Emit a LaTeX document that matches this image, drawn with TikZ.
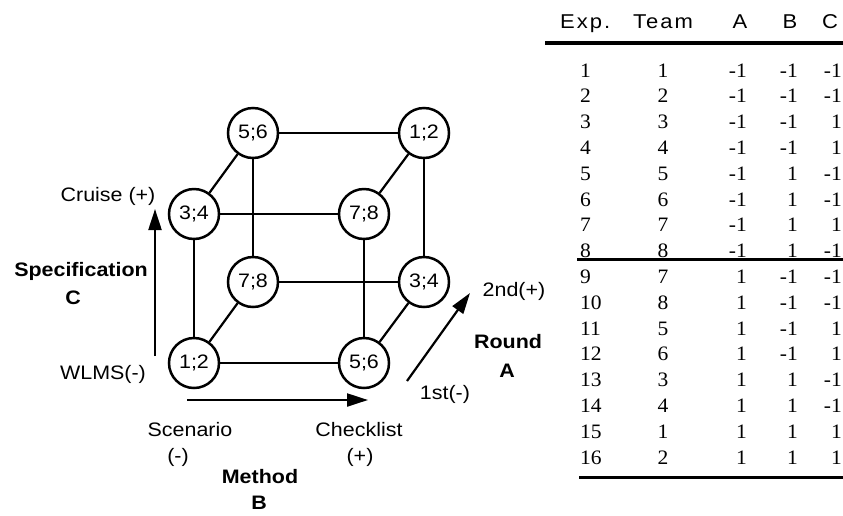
\documentclass[tikz,border=0pt]{standalone}
\usepackage{fontspec}
\setmainfont{Liberation Serif}[FakeStretch=1.05]
\newfontfamily\labelfont{Liberation Sans}[FakeStretch=1.1]
\newfontfamily\headfont{Liberation Sans}[FakeStretch=1.1, LetterSpace=10]
\usetikzlibrary{arrows.meta}

\begin{document}
\begin{tikzpicture}[x=1pt,y=-1pt,
  vtx/.style={circle, draw, line width=2.5pt, minimum size=50pt, inner sep=0pt,
    font=\labelfont\fontsize{19.5}{22}\selectfont},
  edge/.style={line width=2.2pt},
  lbl/.style={inner sep=0pt, font=\labelfont\fontsize{19.5}{22}\selectfont},
  blbl/.style={inner sep=0pt, font=\labelfont\bfseries\fontsize{19.5}{22}\selectfont},
  axis/.style={line width=2.2pt, -{Triangle[length=21pt,width=13pt]}},
  hdr/.style={inner sep=0pt, anchor=base, font=\headfont\fontsize{20}{24}\selectfont},
  cell/.style={inner sep=0pt, font=\fontsize{20.5}{24}\selectfont},
  rule/.style={line width=#1}
]
\useasboundingbox (0,0) rectangle (843,515);

% ---- design cube ----
\node[vtx] (btl) at (253,133) {5;6};
\node[vtx] (btr) at (424,133) {1;2};
\node[vtx] (ftl) at (194,214) {3;4};
\node[vtx] (ftr) at (364,214) {7;8};
\node[vtx] (bbl) at (253,282) {7;8};
\node[vtx] (bbr) at (424,282) {3;4};
\node[vtx] (fbl) at (194,363) {1;2};
\node[vtx] (fbr) at (364,363) {5;6};

\draw[edge] (btl) -- (btr);
\draw[edge] (bbl) -- (bbr);
\draw[edge] (btl) -- (bbl);
\draw[edge] (btr) -- (bbr);
\draw[edge] (ftl) -- (ftr);
\draw[edge] (fbl) -- (fbr);
\draw[edge] (ftl) -- (fbl);
\draw[edge] (ftr) -- (fbr);
\draw[edge] (btl) -- (ftl);
\draw[edge] (btr) -- (ftr);
\draw[edge] (bbl) -- (fbl);
\draw[edge] (bbr) -- (fbr);

% ---- factor axes ----
\coordinate (c0) at (155,356);
\coordinate (c1) at (155,209);
\draw[axis] (c0) -- (c1);
\coordinate (b0) at (187,400);
\coordinate (b1) at (368,400);
\draw[axis] (b0) -- (b1);
\coordinate (a0) at (407,381);
\coordinate (a1) at (470,293);
\draw[axis] (a0) -- (a1);

\node[lbl] (cplus) at (108,196) {Cruise (+)};
\node[lbl] (cminus) at (103,374) {WLMS(-)};
\node[blbl] (cname) at (81,271) {Specification};
\node[blbl] (cletter) at (73,298) {C};

\node[lbl] (aplus) at (514,291) {2nd(+)};
\node[blbl] (aname) at (508,342) {Round};
\node[blbl] (aletter) at (507,371) {A};
\node[lbl] (aminus) at (445,394) {1st(-)};

\node[lbl] (bminus) at (190,430) {Scenario};
\node[lbl] (bminus2) at (178,457) {(-)};
\node[lbl] (bplus) at (359,430) {Checklist};
\node[lbl] (bplus2) at (360,457) {(+)};
\node[blbl] (bname) at (260,477) {Method};
\node[blbl] (bletter) at (259,503) {B};

% ---- run table ----
\node[hdr, anchor=base west] (hexp) at (560,28) {Exp.};
\node[hdr] (hteam) at (663,28) {Team};
\node[hdr] (ha) at (740,28) {A};
\node[hdr] (hb) at (790,28) {B};
\node[hdr] (hc) at (830,28) {C};

\draw[rule=3.5pt] (545,43) -- (843,43);
\draw[rule=2.5pt] (577,259.5) -- (843,259.5);
\draw[rule=3pt] (579,477) -- (843,477);

\foreach \i/\t/\a/\b/\c in {
  1/1/-1/-1/-1, 2/2/-1/-1/-1, 3/3/-1/-1/1, 4/4/-1/-1/1,
  5/5/-1/1/-1, 6/6/-1/1/-1, 7/7/-1/1/1, 8/8/-1/1/-1,
  9/7/1/-1/-1, 10/8/1/-1/-1, 11/5/1/-1/1, 12/6/1/-1/1,
  13/3/1/1/-1, 14/4/1/1/-1, 15/1/1/1/1, 16/2/1/1/1} {
  \pgfmathsetmacro\yy{70+(\i-1)*25.8+7}
  \node[cell, anchor=base west] (exp\i) at (580,\yy) {\i};
  \node[cell, anchor=base] (team\i) at (663,\yy) {\t};
  \node[cell, anchor=base east] (fa\i) at (747,\yy) {\a};
  \node[cell, anchor=base east] (fb\i) at (798,\yy) {\b};
  \node[cell, anchor=base east] (fc\i) at (842,\yy) {\c};
}
\end{tikzpicture}
\end{document}
